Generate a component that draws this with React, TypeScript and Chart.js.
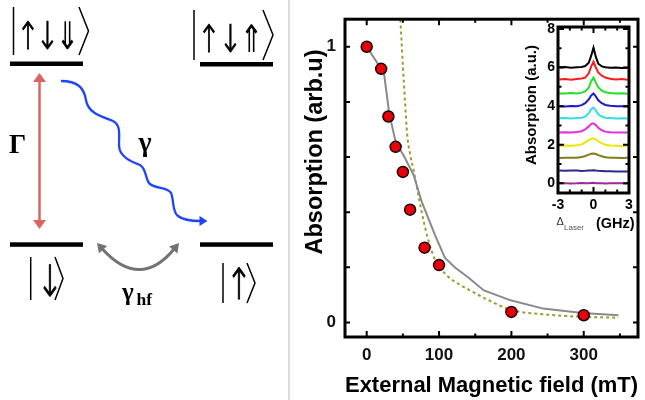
import React, { useEffect, useRef } from 'react';
import { Chart, registerables } from 'chart.js';

Chart.register(...registerables);

const FONT = "'Liberation Sans', Arial, Helvetica, sans-serif";

// ---- main panel data ----
const FIELD_MT = [0, 20, 30, 40, 50, 60, 80, 100, 200, 300];
const ABSORPTION = [1.0, 0.92, 0.747, 0.637, 0.546, 0.409, 0.271, 0.208, 0.038, 0.026];
const SIM_FIELD = [0, 15, 23, 31, 40, 51, 65, 76, 94, 108, 122, 140, 162, 199, 244, 298, 348];
const SIM_ABS = [1.0, 0.94, 0.922, 0.761, 0.654, 0.606, 0.534, 0.438, 0.319, 0.235, 0.199, 0.164, 0.116, 0.08, 0.05, 0.034, 0.026];
const FIT_FIELD = [46, 48, 50, 53, 56, 60, 65, 70, 76, 84, 94, 104, 115, 130, 145, 165, 200, 250, 300, 348];
const FIT_ABS = [1.12, 1.03, 0.93, 0.8, 0.68, 0.61, 0.55, 0.48, 0.4, 0.31, 0.23, 0.19, 0.16, 0.135, 0.113, 0.085, 0.045, 0.028, 0.02, 0.017];
const X_TITLE = 'External Magnetic field (mT)';
const Y_TITLE = 'Absorption (arb.u)';
const X_LABELED = [0, 100, 200, 300];
const Y_LABELED = [0, 1];

// ---- inset data ----
const DETUNING_GHZ = [-2.9, -2.4, -1.9, -1.4, -1.0, -0.7, -0.4, -0.2, 0, 0.2, 0.4, 0.7, 1.0, 1.4, 1.9, 2.4, 2.9];
const TRACE_BLACK = [6.02, 6.03, 5.99, 6.01, 6.03, 6.08, 6.25, 6.6, 7.03, 6.55, 6.2, 6.06, 6.02, 5.99, 6.0, 5.97, 5.99];
const TRACE_RED = [5.38, 5.4, 5.37, 5.41, 5.43, 5.48, 5.7, 6.05, 6.3, 6.0, 5.75, 5.58, 5.48, 5.42, 5.38, 5.4, 5.37];
const TRACE_GREEN = [4.66, 4.65, 4.68, 4.66, 4.7, 4.76, 4.95, 5.28, 5.48, 5.22, 4.98, 4.8, 4.72, 4.68, 4.65, 4.67, 4.64];
const TRACE_BLUE = [4.0, 3.98, 4.01, 4.0, 4.05, 4.15, 4.35, 4.55, 4.66, 4.5, 4.3, 4.15, 4.06, 4.02, 3.99, 4.0, 3.98];
const TRACE_CYAN = [3.37, 3.38, 3.36, 3.38, 3.4, 3.46, 3.62, 3.84, 3.92, 3.78, 3.58, 3.46, 3.4, 3.38, 3.36, 3.37, 3.36];
const TRACE_MAGENTA = [2.63, 2.65, 2.64, 2.66, 2.7, 2.8, 2.95, 3.07, 3.11, 3.02, 2.88, 2.75, 2.68, 2.65, 2.64, 2.63, 2.64];
const TRACE_YELLOW = [1.94, 1.96, 1.95, 1.97, 2.02, 2.12, 2.24, 2.3, 2.33, 2.28, 2.18, 2.08, 2.0, 1.96, 1.95, 1.94, 1.95];
const TRACE_OLIVE = [1.31, 1.33, 1.32, 1.33, 1.36, 1.42, 1.49, 1.53, 1.55, 1.52, 1.46, 1.4, 1.35, 1.33, 1.32, 1.31, 1.32];
const TRACE_NAVY = [0.66, 0.65, 0.66, 0.66, 0.64, 0.65, 0.67, 0.66, 0.68, 0.66, 0.65, 0.64, 0.63, 0.63, 0.62, 0.62, 0.61];
const TRACE_PURPLE = [0.0, 0.01, -0.01, 0.0, 0.02, 0.0, 0.01, 0.02, 0.03, 0.01, 0.0, 0.01, -0.01, 0.0, 0.01, 0.0, -0.01];
const TRACES = [TRACE_BLACK, TRACE_RED, TRACE_GREEN, TRACE_BLUE, TRACE_CYAN, TRACE_MAGENTA, TRACE_YELLOW, TRACE_OLIVE, TRACE_NAVY, TRACE_PURPLE];
const TRACE_COLORS = ['#000000', '#ff1a1a', '#22e022', '#1a1acc', '#33dde8', '#e030e0', '#e8e800', '#7d7d1e', '#2a2a8a', '#9a2a9a'];
const INSET_X_LABELED = [-3, 0, 3];
const INSET_Y_LABELED = [0, 2, 4, 6, 8];

type TickCfg = {
  frameWidth: number;
  tickWidth: number;
  xLen: (v: number) => number;
  yLen: (v: number) => number;
  extra?: (ctx: CanvasRenderingContext2D, chart: Chart) => void;
};

function frameTicksPlugin(id: string, cfg: TickCfg) {
  return {
    id,
    afterDatasetsDraw(chart: any) {
      const { ctx, chartArea: a } = chart;
      const xs = chart.scales.x;
      const ys = chart.scales.y;
      ctx.save();
      ctx.strokeStyle = '#000';
      ctx.lineWidth = cfg.tickWidth;
      ctx.beginPath();
      xs.ticks.forEach((t: any) => {
        const p = xs.getPixelForValue(t.value);
        if (p <= a.left + 1 || p >= a.right - 1) return;
        const len = cfg.xLen(t.value);
        ctx.moveTo(p, a.bottom);
        ctx.lineTo(p, a.bottom - len);
        ctx.moveTo(p, a.top);
        ctx.lineTo(p, a.top + len);
      });
      ys.ticks.forEach((t: any) => {
        const p = ys.getPixelForValue(t.value);
        if (p <= a.top + 1 || p >= a.bottom - 1) return;
        const len = cfg.yLen(t.value);
        ctx.moveTo(a.left, p);
        ctx.lineTo(a.left + len, p);
        ctx.moveTo(a.right, p);
        ctx.lineTo(a.right - len, p);
      });
      ctx.stroke();
      ctx.lineWidth = cfg.frameWidth;
      ctx.strokeRect(a.left, a.top, a.right - a.left, a.bottom - a.top);
      if (cfg.extra) cfg.extra(ctx, chart);
      ctx.restore();
    },
  };
}

const near = (v: number, list: number[]) => list.some((l) => Math.abs(v - l) < 1e-6);

function arrowHead(tx: number, ty: number, dx: number, dy: number, len: number, hw: number) {
  const n = Math.hypot(dx, dy);
  const ux = dx / n;
  const uy = dy / n;
  const bx = tx - ux * len;
  const by = ty - uy * len;
  const px = -uy * hw;
  const py = ux * hw;
  return `${tx},${ty} ${bx + px},${by + py} ${bx - px},${by - py}`;
}

function LevelDiagram() {
  const arrowFont = "'DejaVu Sans', sans-serif";
  const greek = "'Liberation Serif', 'DejaVu Serif', serif";
  const blue = '#1f45fc';
  const gray = '#737373';
  const red = '#d6675f';
  const arrow = (x: number, y: number, ch: string, size: number, sw: number) => (
    <text
      x={0}
      y={0}
      fontSize={size}
      stroke="#000"
      strokeWidth={sw}
      transform={`translate(${x},${y}) scale(0.72,1)`}
    >
      {ch}
    </text>
  );
  return (
    <svg
      width={290}
      height={400}
      style={{ position: 'absolute', left: 0, top: 0, willChange: 'transform' }}
    >
      <line x1={289} y1={0} x2={289} y2={400} stroke="#dcdcdc" strokeWidth={2} />
      {/* levels */}
      <rect x={10} y={61.5} width={73} height={4.5} fill="#000" />
      <rect x={200} y={62} width={73} height={4.5} fill="#000" />
      <rect x={10} y={242.3} width={73} height={4.5} fill="#000" />
      <rect x={200} y={242.3} width={73} height={4.5} fill="#000" />
      {/* kets */}
      <g stroke="#000" strokeWidth={1.5} fill="none">
        <line x1={13.5} y1={7} x2={13.5} y2={55} />
        <polyline points="79,7 88.5,31 79,55" />
        <line x1={194} y1={10} x2={194} y2={60} />
        <polyline points="263,10 273,35 263,60" />
        <line x1={30.7} y1={257} x2={30.7} y2={300} />
        <polyline points="55,257 63,278.5 55,300" />
        <line x1={223} y1={263} x2={223} y2={303} />
        <polyline points="247,263 255,283 247,303" />
      </g>
      <g fontFamily={arrowFont} fontWeight={200} textAnchor="middle" fill="#000">
        {arrow(28, 49, '↑', 38, 0.9)}
        {arrow(47.5, 49, '↓', 38, 0.9)}
        {arrow(67.5, 49, '⇓', 38, 0)}
        {arrow(209, 52, '↑', 38, 0.9)}
        {arrow(230.5, 52, '↓', 38, 0.9)}
        {arrow(252, 52, '⇑', 38, 0)}
        {arrow(50, 296, '↓', 43, 1)}
        {arrow(239, 299, '↑', 43, 1)}
      </g>
      {/* Gamma: red double arrow */}
      <line x1={39.5} y1={81} x2={39.5} y2={221} stroke={red} strokeWidth={2.5} />
      <polygon points={arrowHead(39.5, 73, 0, -1, 9, 6.5)} fill={red} />
      <polygon points={arrowHead(39.5, 229, 0, 1, 9, 6.5)} fill={red} />
      {/* gamma: blue wavy arrow */}
      <path
        d="M61,81 C78,81 84,88 86,100 C88,114 104,117 113,121 C121,125 119,135 119,145 C119,157 132,162 140,165 C147,169 145,180 150,184 C156,189 168,187 171,193 C174,199 172,212 178,216 C184,221 194,221 201,221"
        stroke={blue}
        strokeWidth={2.3}
        fill="none"
      />
      <polygon points={arrowHead(207.5, 221, 1, 0, 8, 5)} fill={blue} />
      {/* gamma_hf: gray curved double arrow */}
      <path d="M102.4,248.9 Q140,290 173.9,249.2" stroke={gray} strokeWidth={3} fill="none" />
      <polygon points={arrowHead(97, 243, -0.67, -0.74, 9, 5.5)} fill={gray} />
      <polygon points={arrowHead(179, 243, 0.64, -0.77, 9, 5.5)} fill={gray} />
      {/* labels */}
      <g fontFamily={greek} fontWeight="bold" fill="#000">
        <text x={17.5} y={153} fontSize={27} textAnchor="middle">Γ</text>
        <text x={145} y={151} fontSize={28} textAnchor="middle">γ</text>
        <text x={122} y={300} fontSize={25}>γ</text>
        <text x={136.5} y={305} fontSize={17.5}>hf</text>
      </g>
    </svg>
  );
}

export default function App() {
  const mainRef = useRef<HTMLCanvasElement>(null);
  const insetRef = useRef<HTMLCanvasElement>(null);

  useEffect(() => {
    if (!mainRef.current || !insetRef.current) return;
    Chart.defaults.font.family = FONT;

    const mainDecor = frameTicksPlugin('mainDecor', {
      frameWidth: 3,
      tickWidth: 2,
      xLen: (v) => (v % 100 === 0 ? 6 : 3.5),
      yLen: () => 5,
      extra: (ctx) => {
        ctx.save();
        ctx.translate(26, 152);
        ctx.rotate(-Math.PI / 2);
        ctx.font = `bold 23.5px ${FONT}`;
        ctx.fillStyle = '#000';
        ctx.textAlign = 'center';
        ctx.textBaseline = 'middle';
        ctx.fillText(Y_TITLE, 0, 0);
        ctx.restore();
      },
    });

    const main = new Chart(mainRef.current, {
      type: 'scatter',
      data: {
        datasets: [
          {
            label: 'Measured',
            data: FIELD_MT.map((x, i) => ({ x, y: ABSORPTION[i] })),
            pointRadius: 5.5,
            pointBackgroundColor: '#e8000b',
            pointBorderColor: '#1a0000',
            pointBorderWidth: 1.5,
            showLine: false,
          },
          {
            label: 'Simulation',
            data: SIM_FIELD.map((x, i) => ({ x, y: SIM_ABS[i] })),
            showLine: true,
            borderColor: '#8a8a8a',
            borderWidth: 2,
            pointRadius: 0,
          },
          {
            label: 'Fit',
            data: FIT_FIELD.map((x, i) => ({ x, y: FIT_ABS[i] })),
            showLine: true,
            borderColor: '#9c9c2c',
            borderWidth: 2,
            borderDash: [3, 3],
            pointRadius: 0,
            cubicInterpolationMode: 'monotone',
          },
        ],
      },
      options: {
        responsive: false,
        animation: false,
        layout: { padding: { top: 15, right: 2, left: 0, bottom: 0 } },
        plugins: { legend: { display: false }, tooltip: { enabled: false } },
        scales: {
          x: {
            type: 'linear',
            min: -30,
            max: 375,
            afterFit: (s: any) => {
              s.height = 63;
            },
            grid: { display: false, drawTicks: false },
            border: { display: false },
            ticks: {
              stepSize: 50,
              includeBounds: false,
              autoSkip: false,
              maxRotation: 0,
              minRotation: 0,
              padding: 8,
              color: '#111',
              font: { size: 17, weight: 'bold' },
              callback: (v: any) => (near(Number(v), X_LABELED) ? String(v) : ''),
            },
            title: {
              display: true,
              text: X_TITLE,
              color: '#000',
              font: { size: 22, weight: 'bold' },
              padding: { top: 0, bottom: 1 },
            },
          },
          y: {
            type: 'linear',
            min: -0.053,
            max: 1.1,
            afterFit: (s: any) => {
              s.width = 55;
            },
            grid: { display: false, drawTicks: false },
            border: { display: false },
            ticks: {
              stepSize: 0.2,
              includeBounds: false,
              autoSkip: false,
              padding: 9,
              color: '#111',
              font: { size: 17, weight: 'bold' },
              callback: (v: any) => (near(Number(v), Y_LABELED) ? String(Math.round(Number(v))) : ''),
            },
          },
        },
      },
      plugins: [mainDecor],
    } as any);

    const insetDecor = frameTicksPlugin('insetDecor', {
      frameWidth: 3,
      tickWidth: 2,
      xLen: (v) => (Math.abs(v) < 1e-6 ? 6 : 3.5),
      yLen: (v) => (Math.round(v) % 2 === 0 ? 6 : 3.5),
      extra: (ctx) => {
        ctx.save();
        ctx.fillStyle = '#000';
        ctx.translate(17, 90);
        ctx.rotate(-Math.PI / 2);
        ctx.font = `bold 15px ${FONT}`;
        ctx.textAlign = 'center';
        ctx.textBaseline = 'middle';
        ctx.fillText('Absorption (a.u.)', 0, 0);
        ctx.restore();
        ctx.save();
        ctx.textBaseline = 'alphabetic';
        ctx.textAlign = 'left';
        ctx.fillStyle = '#333';
        ctx.font = `11px ${FONT}`;
        ctx.fillText('Δ', 41.5, 210);
        ctx.fillStyle = '#555';
        ctx.font = `8px ${FONT}`;
        ctx.fillText('Laser', 49, 214.5);
        ctx.fillStyle = '#000';
        ctx.font = `bold 14.5px ${FONT}`;
        ctx.fillText('(GHz)', 81, 213);
        ctx.restore();
      },
    });

    const inset = new Chart(insetRef.current, {
      type: 'scatter',
      data: {
        datasets: TRACES.map((tr, k) => ({
          label: `trace ${k + 1}`,
          data: DETUNING_GHZ.map((x, i) => ({ x, y: tr[i] })),
          showLine: true,
          borderColor: TRACE_COLORS[k],
          borderWidth: 2,
          pointRadius: 0,
        })),
      },
      options: {
        responsive: false,
        animation: false,
        layout: { padding: { top: 12, right: 13, left: 0, bottom: 0 } },
        plugins: { legend: { display: false }, tooltip: { enabled: false } },
        scales: {
          x: {
            type: 'linear',
            min: -3,
            max: 3,
            afterFit: (s: any) => {
              s.height = 47;
            },
            grid: { display: false, drawTicks: false },
            border: { display: false },
            ticks: {
              stepSize: 1,
              autoSkip: false,
              maxRotation: 0,
              minRotation: 0,
              padding: 4,
              color: '#000',
              font: { size: 14, weight: 'bold' },
              callback: (v: any) => (near(Number(v), INSET_X_LABELED) ? String(v) : ''),
            },
          },
          y: {
            type: 'linear',
            min: -0.5,
            max: 8.1,
            afterFit: (s: any) => {
              s.width = 43;
            },
            grid: { display: false, drawTicks: false },
            border: { display: false },
            ticks: {
              stepSize: 1,
              includeBounds: false,
              autoSkip: false,
              padding: 3,
              color: '#000',
              font: { size: 14, weight: 'bold' },
              callback: (v: any) => (near(Number(v), INSET_Y_LABELED) ? String(v) : ''),
            },
          },
        },
      },
      plugins: [insetDecor],
    } as any);

    return () => {
      main.destroy();
      inset.destroy();
    };
  }, []);

  return (
    <div
      style={{
        position: 'absolute',
        left: 0,
        top: 0,
        width: 645,
        height: 400,
        background: '#fff',
        overflow: 'hidden',
      }}
    >
      <LevelDiagram />
      <canvas
        ref={mainRef}
        width={355}
        height={400}
        style={{ position: 'absolute', left: 290, top: 0, width: 355, height: 400 }}
      />
      <canvas
        ref={insetRef}
        width={127}
        height={225}
        style={{ position: 'absolute', left: 515, top: 15, width: 127, height: 225 }}
      />
    </div>
  );
}
